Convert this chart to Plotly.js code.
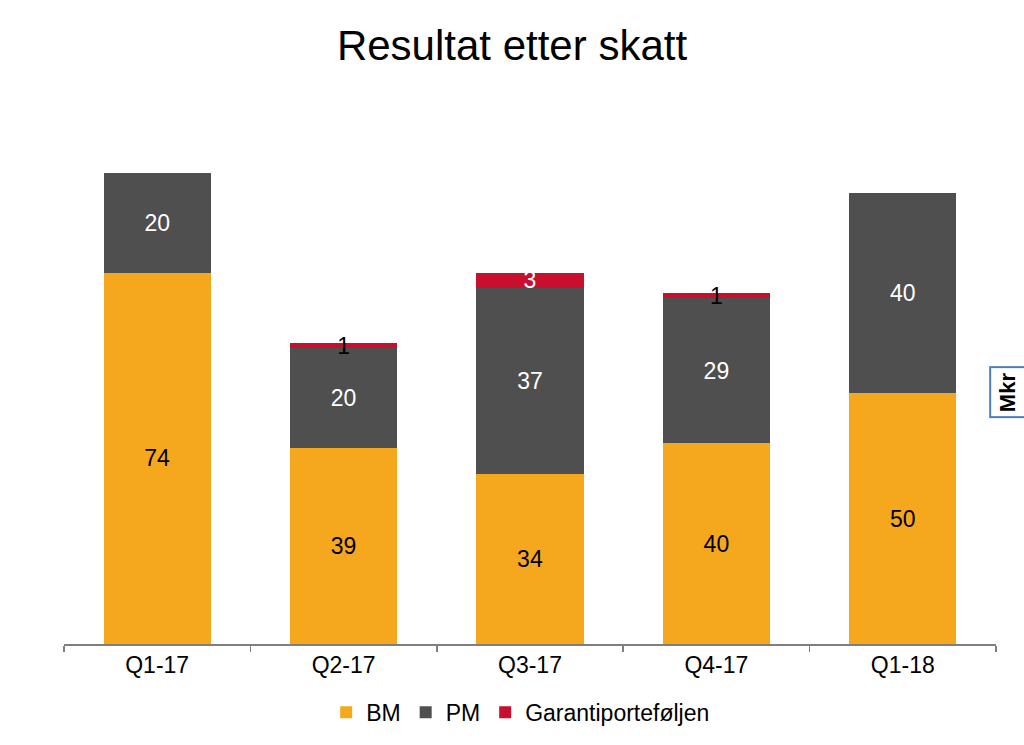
<!DOCTYPE html>
<html>
<head>
<meta charset="utf-8">
<script src="https://cdn.plot.ly/plotly-3.0.1.min.js"></script>
<style>html,body{margin:0;padding:0;background:#fff;}#chart{width:1024px;height:745px;}</style>
</head>
<body>
<div id="chart"></div>
<script>
const categories = ['Q1-17', 'Q2-17', 'Q3-17', 'Q4-17', 'Q1-18'];
const bmValues = [74, 39, 34, 40, 50];
const pmValues = [20, 20, 37, 29, 40];
const garantiValues = [0, 1, 3, 1, 0];
const seriesNames = ['BM', 'PM', 'Garantiporteføljen'];

const font = 'Arial, "Liberation Sans", sans-serif';

const common = {
  type: 'bar',
  x: categories,
  textposition: 'inside',
  insidetextanchor: 'middle',
  textangle: 0,
  constraintext: 'none',
  hoverinfo: 'skip'
};

const traces = [
  Object.assign({}, common, {
    name: seriesNames[0], y: bmValues,
    text: bmValues.map(String),
    marker: {color: '#F5A81E'},
    textfont: {family: font, size: 23, color: '#000000'}
  }),
  Object.assign({}, common, {
    name: seriesNames[1], y: pmValues,
    text: pmValues.map(String),
    marker: {color: '#4F4F4F'},
    textfont: {family: font, size: 23, color: '#FFFFFF'}
  }),
  Object.assign({}, common, {
    name: seriesNames[2], y: garantiValues,
    text: garantiValues.map(v => v ? String(v) : ''),
    marker: {color: '#C8102E'},
    textfont: {family: font, size: 23, color: garantiValues.map(v => v >= 3 ? '#FFFFFF' : '#000000')}
  })
];

const layout = {
  width: 1024, height: 745,
  paper_bgcolor: '#FFFFFF', plot_bgcolor: '#FFFFFF',
  margin: {l: 64, r: 28, t: 120, b: 100},
  barmode: 'stack',
  bargap: 0.425,
  showlegend: true,
  title: {
    text: 'Resultat etter skatt',
    font: {family: font, size: 42, color: '#000000'},
    x: 0.5, xanchor: 'center',
    y: 1 - 45 / 745, yref: 'container', yanchor: 'middle'
  },
  xaxis: {
    type: 'category',
    showline: true, linecolor: '#7F7F7F', linewidth: 1.5,
    ticks: 'outside', tickson: 'boundaries', ticklen: 6, tickcolor: '#7F7F7F', tickwidth: 1.5,
    tickfont: {family: font, size: 23, color: '#000000'},
    showgrid: false, zeroline: false, fixedrange: true
  },
  yaxis: {
    range: [0, 104.5],
    visible: false, showgrid: false, zeroline: false, fixedrange: true
  },
  legend: {
    orientation: 'h',
    x: 0.49, xanchor: 'center',
    y: -0.128, yanchor: 'middle',
    font: {family: font, size: 23, color: '#000000'},
    itemwidth: 30,
    traceorder: 'normal'
  },
  annotations: [{
    text: '<b>Mkr</b>',
    xref: 'paper', yref: 'paper',
    x: 1.0125, y: 0.48,
    xanchor: 'center', yanchor: 'middle',
    textangle: -90,
    showarrow: false,
    font: {family: font, size: 22, color: '#000000'},
    bordercolor: '#4A7EBB', borderwidth: 2, borderpad: 4,
    bgcolor: '#FFFFFF'
  }]
};

Plotly.newPlot('chart', traces, layout, {displayModeBar: false, staticPlot: true});
</script>
</body>
</html>
